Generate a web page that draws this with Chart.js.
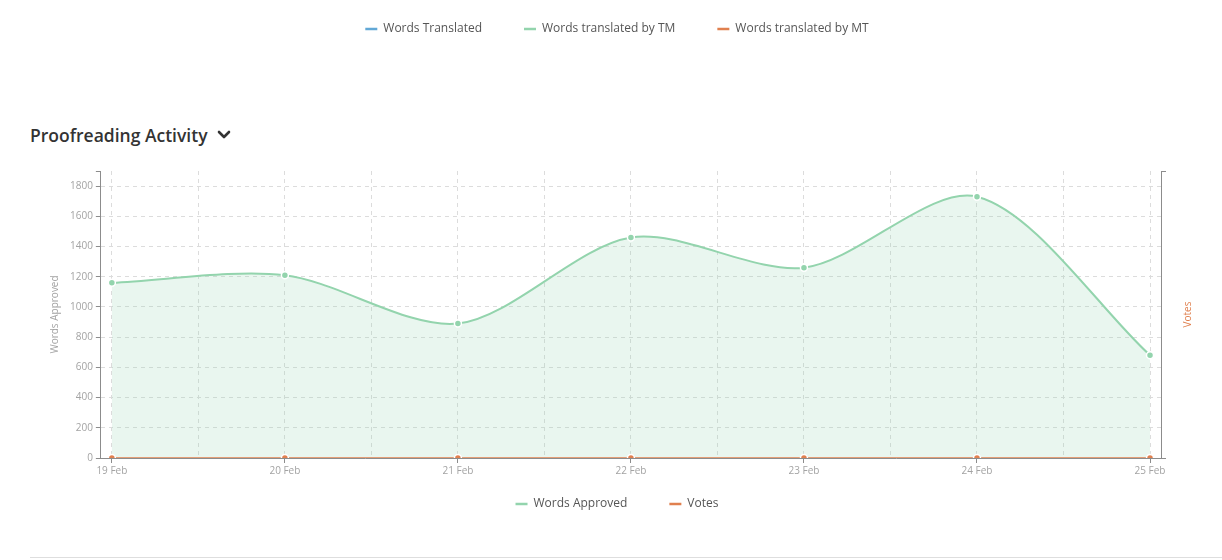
<!DOCTYPE html>
<html>
<head>
<meta charset="utf-8">
<script src="https://cdn.jsdelivr.net/npm/chart.js@4.4.1/dist/chart.umd.min.js"></script>
<style>
  html, body { margin: 0; padding: 0; background: #fff; width: 1222px; height: 560px; overflow: hidden; font-family: "Open Sans", sans-serif; }
  .legendBox { position: absolute; width: 1222px; height: 160px; }
  #topLegend { top: -19px; left: 6px; }
  #bottomLegend { top: 456px; left: 6px; }
  #title { position: absolute; left: 30px; top: 123px; font-size: 17.5px; font-weight: 600; color: #333; }
  #title svg { vertical-align: middle; margin-left: 9px; margin-top: -4px; }
  #main { position: absolute; left: 0; top: 160px; width: 1222px; height: 319px; }
  #rule { position: absolute; left: 30px; right: 0; top: 557px; height: 1px; background: #dedede; }
</style>
</head>
<body>
<div id="title">Proofreading Activity<svg width="14" height="10" viewBox="0 0 14 10"><path d="M2 2 L7 7 L12 2" stroke="#333" stroke-width="2.6" fill="none" stroke-linecap="round" stroke-linejoin="round"/></svg></div>
<div id="main"><canvas id="chart"></canvas></div>
<div id="topLegend" class="legendBox"><canvas id="legendTop"></canvas></div>
<div id="bottomLegend" class="legendBox"><canvas id="legendBottom"></canvas></div>
<div id="rule"></div>
<script>
// Day labels and daily totals
const days = ['19 Feb', '20 Feb', '21 Feb', '22 Feb', '23 Feb', '24 Feb', '25 Feb'];
const wordsApproved = [1160, 1210, 890, 1460, 1260, 1730, 680];
const votes = [0, 0, 0, 0, 0, 0, 0];
const yTicks = [0, 200, 400, 600, 800, 1000, 1200, 1400, 1600, 1800];
const yMax = 1900;

// Series of the translation chart above this one
const translationSeries = ['Words Translated', 'Words translated by TM', 'Words translated by MT'];
const translationColors = ['#62a8d6', '#93d4ad', '#e0804f'];

const GREEN = '#93d4ad';
const ORANGE = '#e0804f';
const AXIS = '#8c8c8c';
const GRID = '#dcdcdc';
const TICK_TEXT = '#a3a3a3';

Chart.defaults.font.family = '"Open Sans", sans-serif';

// Legend entries drawn as short coloured strokes
const lineLabels = (chart) => chart.data.datasets.map((ds, i) => ({
  text: ds.label, datasetIndex: i, hidden: false,
  fillStyle: ds.borderColor, strokeStyle: ds.borderColor, fontColor: '#555',
  lineWidth: 2.5, pointStyle: 'line', lineCap: 'butt'
}));

function legendChart(canvasId, datasets) {
  return new Chart(document.getElementById(canvasId), {
    type: 'line',
    data: { labels: [''], datasets },
    options: {
      responsive: true, maintainAspectRatio: false, animation: false, events: [],
      scales: { x: { display: false }, y: { display: false } },
      plugins: {
        tooltip: { enabled: false },
        legend: {
          position: 'top',
          labels: {
            usePointStyle: true, pointStyle: 'line', pointStyleWidth: 12, boxWidth: 12, padding: 42,
            color: '#555', font: { size: 12 }, generateLabels: lineLabels
          }
        }
      }
    }
  });
}

legendChart('legendTop', translationSeries.map((name, i) => ({
  label: name, data: [null], borderColor: translationColors[i]
})));

legendChart('legendBottom', [
  { label: 'Words Approved', data: [null], borderColor: GREEN },
  { label: 'Votes', data: [null], borderColor: ORANGE }
]);

// Right-hand axis title, reading bottom to top
const votesTitle = {
  id: 'votesTitle',
  afterDraw(chart) {
    const s = chart.scales.y1;
    const ctx = chart.ctx;
    ctx.save();
    ctx.translate(s.left + 27, (chart.chartArea.top + chart.chartArea.bottom) / 2);
    ctx.rotate(-Math.PI / 2);
    ctx.fillStyle = ORANGE;
    ctx.font = '10px "Open Sans", sans-serif';
    ctx.textAlign = 'center';
    ctx.textBaseline = 'middle';
    ctx.fillText('Votes', 0, 0);
    ctx.restore();
  }
};

const points = days.map((d, i) => ({ x: i, y: wordsApproved[i] }));
const votePoints = days.map((d, i) => ({ x: i, y: votes[i] }));
const X_PAD = 0.0635;

new Chart(document.getElementById('chart'), {
  type: 'line',
  data: {
    datasets: [
      {
        label: 'Words Approved', data: points, yAxisID: 'y', order: 1,
        borderColor: GREEN, backgroundColor: 'rgba(147,212,173,0.2)', fill: 'origin',
        borderWidth: 2, tension: 0.3,
        pointRadius: 3.5, pointBackgroundColor: GREEN, pointBorderColor: '#fff', pointBorderWidth: 1.5
      },
      {
        label: 'Votes', data: votePoints, yAxisID: 'y1', order: 0,
        borderColor: ORANGE, backgroundColor: ORANGE, fill: false,
        borderWidth: 1.5, tension: 0.3,
        pointRadius: 3.5, pointBackgroundColor: ORANGE, pointBorderColor: '#fff', pointBorderWidth: 1.5
      }
    ]
  },
  options: {
    responsive: true, maintainAspectRatio: false, animation: false, events: [],
    layout: { padding: { left: 49, right: 56, top: 11, bottom: 0 } },
    scales: {
      x: {
        type: 'linear', min: -X_PAD, max: days.length - 1 + X_PAD,
        afterBuildTicks: (scale) => {
          const t = [];
          for (let v = 0; v <= days.length - 1; v += 0.5) t.push({ value: v });
          scale.ticks = t;
        },
        grid: {
          color: GRID, lineWidth: 1, tickLength: 5,
          tickColor: (ctx) => (ctx.tick && Number.isInteger(ctx.tick.value)) ? AXIS : 'transparent'
        },
        border: { display: true, color: AXIS, width: 1, dash: [4, 4] },
        ticks: {
          autoSkip: false, maxRotation: 0, color: TICK_TEXT, font: { size: 10 }, padding: 2,
          callback: (v) => Number.isInteger(v) ? days[v] : ''
        }
      },
      y: {
        position: 'left', min: 0, max: yMax,
        afterBuildTicks: (scale) => {
          scale.ticks = yTicks.map(v => ({ value: v })).concat([{ value: yMax }]);
        },
        grid: {
          color: (ctx) => (ctx.tick && ctx.tick.value === yMax) ? 'transparent' : GRID,
          tickColor: AXIS, tickLength: 5
        },
        border: { display: true, color: AXIS, width: 1, dash: [4, 4] },
        ticks: {
          color: TICK_TEXT, font: { size: 10 }, padding: 3,
          callback: (v) => v === yMax ? '' : v
        },
        title: { display: true, text: 'Words Approved', color: TICK_TEXT, font: { size: 10 }, padding: { top: 0, bottom: 6 } }
      },
      y1: {
        position: 'right', min: 0, max: 1,
        afterBuildTicks: (scale) => { scale.ticks = [{ value: 0 }, { value: 1 }]; },
        grid: { drawOnChartArea: false, tickColor: AXIS, tickLength: 5 },
        border: { display: true, color: AXIS, width: 1 },
        ticks: { display: true, callback: () => '', padding: 0 }
      }
    },
    plugins: {
      tooltip: { enabled: false },
      legend: { display: false }
    }
  },
  plugins: [votesTitle]
});
</script>
</body>
</html>
